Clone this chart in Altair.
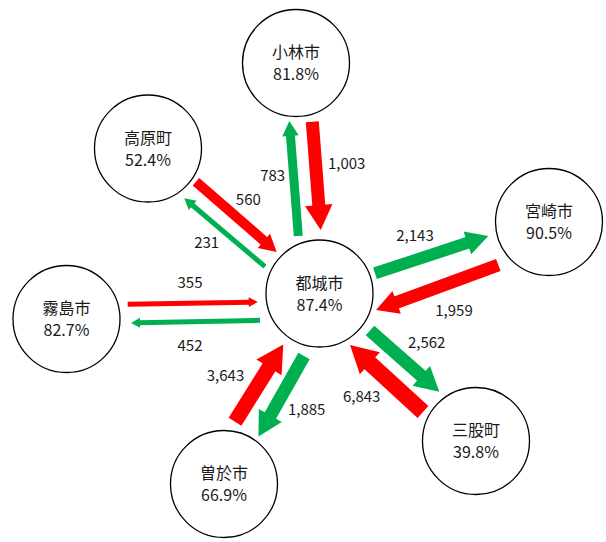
import math
import altair as alt
import pandas as pd

# ---------------- data ----------------
towns = ["都城市", "小林市", "高原町", "宮崎市", "霧島市", "曽於市", "三股町"]
rates = [87.4, 81.8, 52.4, 90.5, 82.7, 66.9, 39.8]

flow_from = ["小林市", "都城市", "高原町", "都城市", "霧島市", "都城市",
             "曽於市", "都城市", "都城市", "宮崎市", "都城市", "三股町"]
flow_to = ["都城市", "小林市", "都城市", "高原町", "都城市", "霧島市",
           "都城市", "曽於市", "宮崎市", "都城市", "三股町", "都城市"]
flow_values = [1003, 783, 560, 231, 355, 452, 3643, 1885, 2143, 1959, 2562, 6843]

# ---------------- layout (pixels) ----------------
W, H = 606, 542
node_x = [319.5, 296, 148, 549, 66.5, 224, 476]
node_y = [293.5, 63, 148.5, 222, 319, 484, 441]
node_d = 107

tail_x = [312.3, 298.3, 196, 265, 127.7, 260, 235, 304, 375, 498.3, 370, 423]
tail_y = [121.7, 236, 181.7, 266.7, 304.3, 320.3, 421.7, 356, 273.3, 265, 330.5, 412]
tip_x = [320.7, 289.3, 276.7, 184.3, 257.7, 131, 283.3, 258.5, 488.3, 376, 439.3, 350]
tip_y = [230, 121, 252, 198.3, 302, 323, 344.5, 436.5, 236, 310, 391.7, 345]
shaft_w = [13, 9, 10, 5, 5, 5, 15, 13, 12, 13, 13, 16]
head_len = [25, 15, 17, 11, 9, 9, 27, 24, 22, 22, 24, 27]

label_x = [346.7, 272.7, 248.3, 206.7, 190, 190, 225.5, 306.7, 415, 454, 426.7, 361.7]
label_y = [164.3, 175.7, 200, 243.3, 283.3, 346, 375.5, 410, 236, 310.7, 343.3, 396.7]

RED, GREEN = "#FF0000", "#00B050"
FONT = "Noto Sans CJK JP"

# ---------------- tables ----------------
nodes = pd.DataFrame({
    "town": towns,
    "rate": [r / 100 for r in rates],
    "x": node_x,
    "y": node_y,
    "y_name": [v - 10 for v in node_y],
    "y_rate": [v + 12 for v in node_y],
})

rows = []
for i in range(len(flow_values)):
    dx = tip_x[i] - tail_x[i]
    dy = tip_y[i] - tail_y[i]
    L = math.hypot(dx, dy)
    ux, uy = dx / L, dy / L
    hl = head_len[i]
    bx = tip_x[i] - ux * (hl - 1)
    by = tip_y[i] - uy * (hl - 1)
    ang = (math.degrees(math.atan2(dx, -dy)) + 360) % 360
    rows.append({
        "from": flow_from[i], "to": flow_to[i], "value": flow_values[i],
        "dir": "in" if flow_to[i] == "都城市" else "out",
        "x": tail_x[i], "y": tail_y[i], "x2": bx, "y2": by,
        "tx": tip_x[i], "ty": tip_y[i],
        "w": shaft_w[i], "hsize": (2 * hl) ** 2, "ang": ang,
        "lx": label_x[i], "ly": label_y[i],
    })
flows = pd.DataFrame(rows)

xs = alt.Scale(domain=[0, W], nice=False, zero=False)
ys = alt.Scale(domain=[0, H], nice=False, zero=False, reverse=True)
color = alt.Color("dir:N", scale=alt.Scale(domain=["in", "out"], range=[RED, GREEN]), legend=None)

circles = alt.Chart(nodes).mark_point(
    shape="circle", filled=True, fill="white", stroke="black", strokeWidth=1.3, opacity=1
).encode(
    x=alt.X("x:Q", scale=xs, axis=None),
    y=alt.Y("y:Q", scale=ys, axis=None),
    size=alt.value(node_d ** 2),
)

shafts = alt.Chart(flows).mark_rule(strokeCap="butt").encode(
    x=alt.X("x:Q", scale=xs, axis=None),
    y=alt.Y("y:Q", scale=ys, axis=None),
    x2="x2:Q",
    y2="y2:Q",
    strokeWidth=alt.StrokeWidth("w:Q", scale=None),
    color=color,
)

heads = alt.Chart(flows).mark_point(
    shape="M0,0 L0.55,1 L-0.55,1 Z", filled=True, opacity=1, strokeWidth=0
).encode(
    x=alt.X("tx:Q", scale=xs, axis=None),
    y=alt.Y("ty:Q", scale=ys, axis=None),
    size=alt.Size("hsize:Q", scale=None),
    angle=alt.Angle("ang:Q", scale=None),
    color=color,
)

names = alt.Chart(nodes).mark_text(
    font=FONT, fontSize=16, baseline="middle", align="center", color="#1a1a1a"
).encode(
    x=alt.X("x:Q", scale=xs, axis=None),
    y=alt.Y("y_name:Q", scale=ys, axis=None),
    text="town:N",
)

pcts = alt.Chart(nodes).mark_text(
    font=FONT, fontSize=16, baseline="middle", align="center", color="#1a1a1a"
).encode(
    x=alt.X("x:Q", scale=xs, axis=None),
    y=alt.Y("y_rate:Q", scale=ys, axis=None),
    text=alt.Text("rate:Q", format=".1%"),
)

labels = alt.Chart(flows).mark_text(
    font=FONT, fontSize=15, baseline="middle", align="center", color="#1a1a1a"
).encode(
    x=alt.X("lx:Q", scale=xs, axis=None),
    y=alt.Y("ly:Q", scale=ys, axis=None),
    text=alt.Text("value:Q", format=","),
)

chart = alt.layer(circles, shafts, heads, names, pcts, labels).properties(
    width=W, height=H, autosize="none", padding=0
).configure_view(stroke=None)

chart.save("out.html", embed_options={"renderer": "svg", "actions": False})
